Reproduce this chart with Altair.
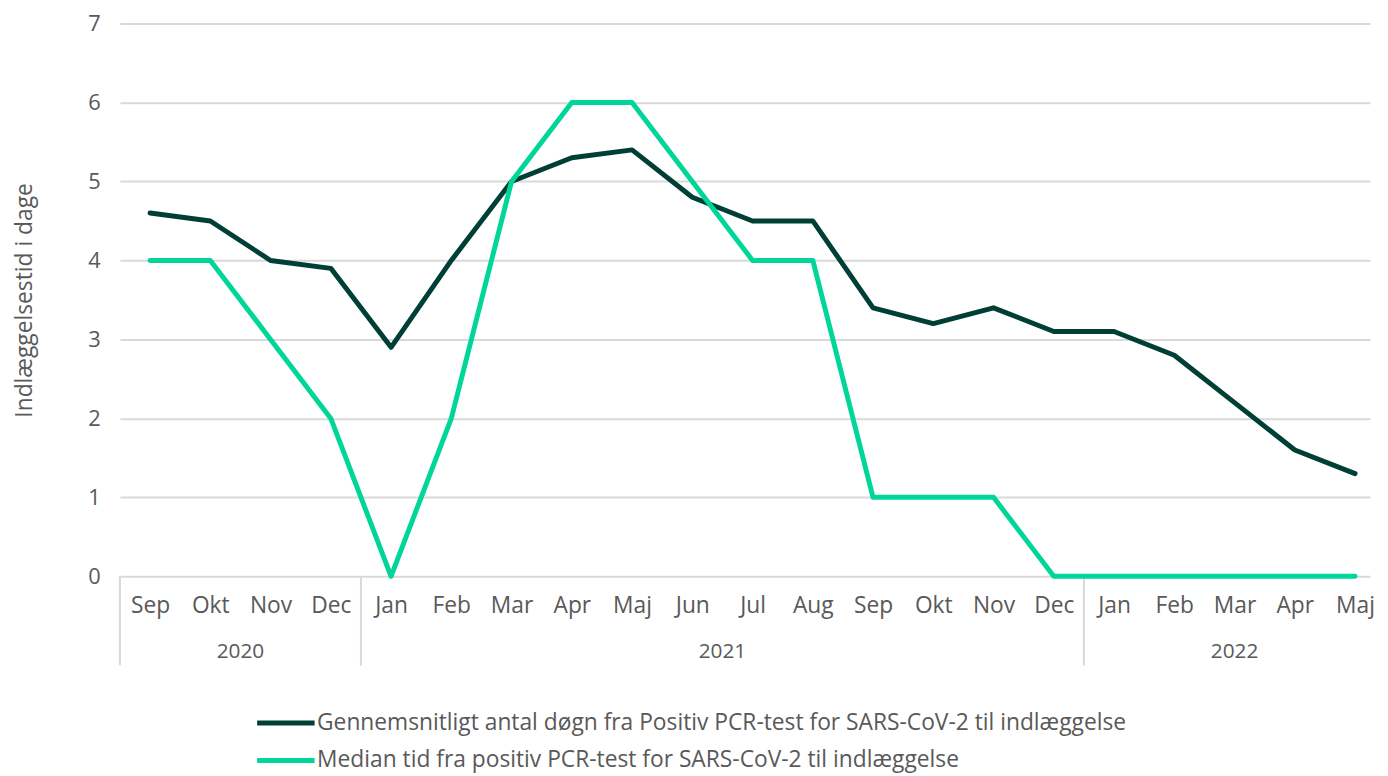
import altair as alt
import pandas as pd

months = ["Sep", "Okt", "Nov", "Dec", "Jan", "Feb", "Mar", "Apr", "Maj", "Jun", "Jul",
          "Aug", "Sep", "Okt", "Nov", "Dec", "Jan", "Feb", "Mar", "Apr", "Maj"]
years = [2020, 2020, 2020, 2020,
         2021, 2021, 2021, 2021, 2021, 2021, 2021, 2021, 2021, 2021, 2021, 2021,
         2022, 2022, 2022, 2022, 2022]
mean_days = [4.6, 4.5, 4.0, 3.9, 2.9, 4.0, 5.0, 5.3, 5.4, 4.8, 4.5,
             4.5, 3.4, 3.2, 3.4, 3.1, 3.1, 2.8, 2.2, 1.6, 1.3]
median_days = [4, 4, 3, 2, 0, 2, 5, 6, 6, 5, 4,
               4, 1, 1, 1, 0, 0, 0, 0, 0, 0]

s_mean = "Gennemsnitligt antal døgn fra Positiv PCR-test for SARS-CoV-2 til indlæggelse"
s_median = "Median tid fra positiv PCR-test for SARS-CoV-2 til indlæggelse"

FONT = "Open Sans"
TXT = "#595959"
W, H = 1262, 558

rows = []
for i, v in enumerate(mean_days):
    rows.append({"idx": i, "serie": s_mean, "val": v})
for i, v in enumerate(median_days):
    rows.append({"idx": i, "serie": s_median, "val": v})
df = pd.DataFrame(rows)

# year groups
yr_rows = []
for y in sorted(set(years)):
    ids = [i for i, yy in enumerate(years) if yy == y]
    yr_rows.append({"year": str(y), "start": ids[0] - 0.5, "center": (ids[0] + ids[-1]) / 2})
ydf = pd.DataFrame(yr_rows)

label_expr = "[" + ",".join("'" + m + "'" for m in months) + "][datum.value]"

xscale = alt.Scale(domain=[-0.5, 20.25], nice=False, zero=False)

lines = alt.Chart(df).mark_line(strokeWidth=5, strokeCap="round", strokeJoin="round").encode(
    x=alt.X("idx:Q", scale=xscale,
            axis=alt.Axis(values=list(range(len(months))), labelExpr=label_expr,
                          grid=False, domain=False, ticks=False, labelPadding=19,
                          labelFontSize=23, labelColor=TXT, labelFont=FONT, title=None,
                          labelFlush=False, labelOverlap=False)),
    y=alt.Y("val:Q", scale=alt.Scale(domain=[0, 7], nice=False),
            axis=alt.Axis(values=list(range(8)), grid=True, gridColor="#d9d9d9", gridWidth=2,
                          domain=False, ticks=False, labelPadding=20, labelFontSize=22,
                          labelColor=TXT, labelFont=FONT,
                          title="Indlæggelsestid i dage", titleFont=FONT, titleFontSize=23,
                          titleFontWeight="normal", titleColor=TXT, titlePadding=52)),
    color=alt.Color("serie:N",
                    scale=alt.Scale(domain=[s_mean, s_median], range=["#003f35", "#00d69a"]),
                    legend=alt.Legend(title=None, orient="none", legendX=136, legendY=687,
                                      direction="vertical", symbolType="stroke",
                                      symbolSize=3364, symbolStrokeWidth=5,
                                      labelFont=FONT, labelFontSize=23, labelColor=TXT,
                                      labelOffset=0, clipHeight=38, rowPadding=0,
                                      labelLimit=1200)),
    order=alt.Order("serie:N"),
)

seps = alt.Chart(ydf).mark_rule(color="#d9d9d9", strokeWidth=2).encode(
    x=alt.X("start:Q", scale=xscale),
    y=alt.value(H),
    y2=alt.value(H + 90),
)

yr_text = alt.Chart(ydf).mark_text(font=FONT, fontSize=21, color=TXT, baseline="middle").encode(
    x=alt.X("center:Q", scale=xscale),
    y=alt.value(H + 76),
    text="year:N",
)

chart = alt.layer(seps, lines, yr_text).properties(
    width=W, height=H, padding={"left": 5, "top": 1, "right": 5, "bottom": 5}
).configure_view(stroke=None)

chart.save("out.html", embed_options={"renderer": "svg", "actions": False})
